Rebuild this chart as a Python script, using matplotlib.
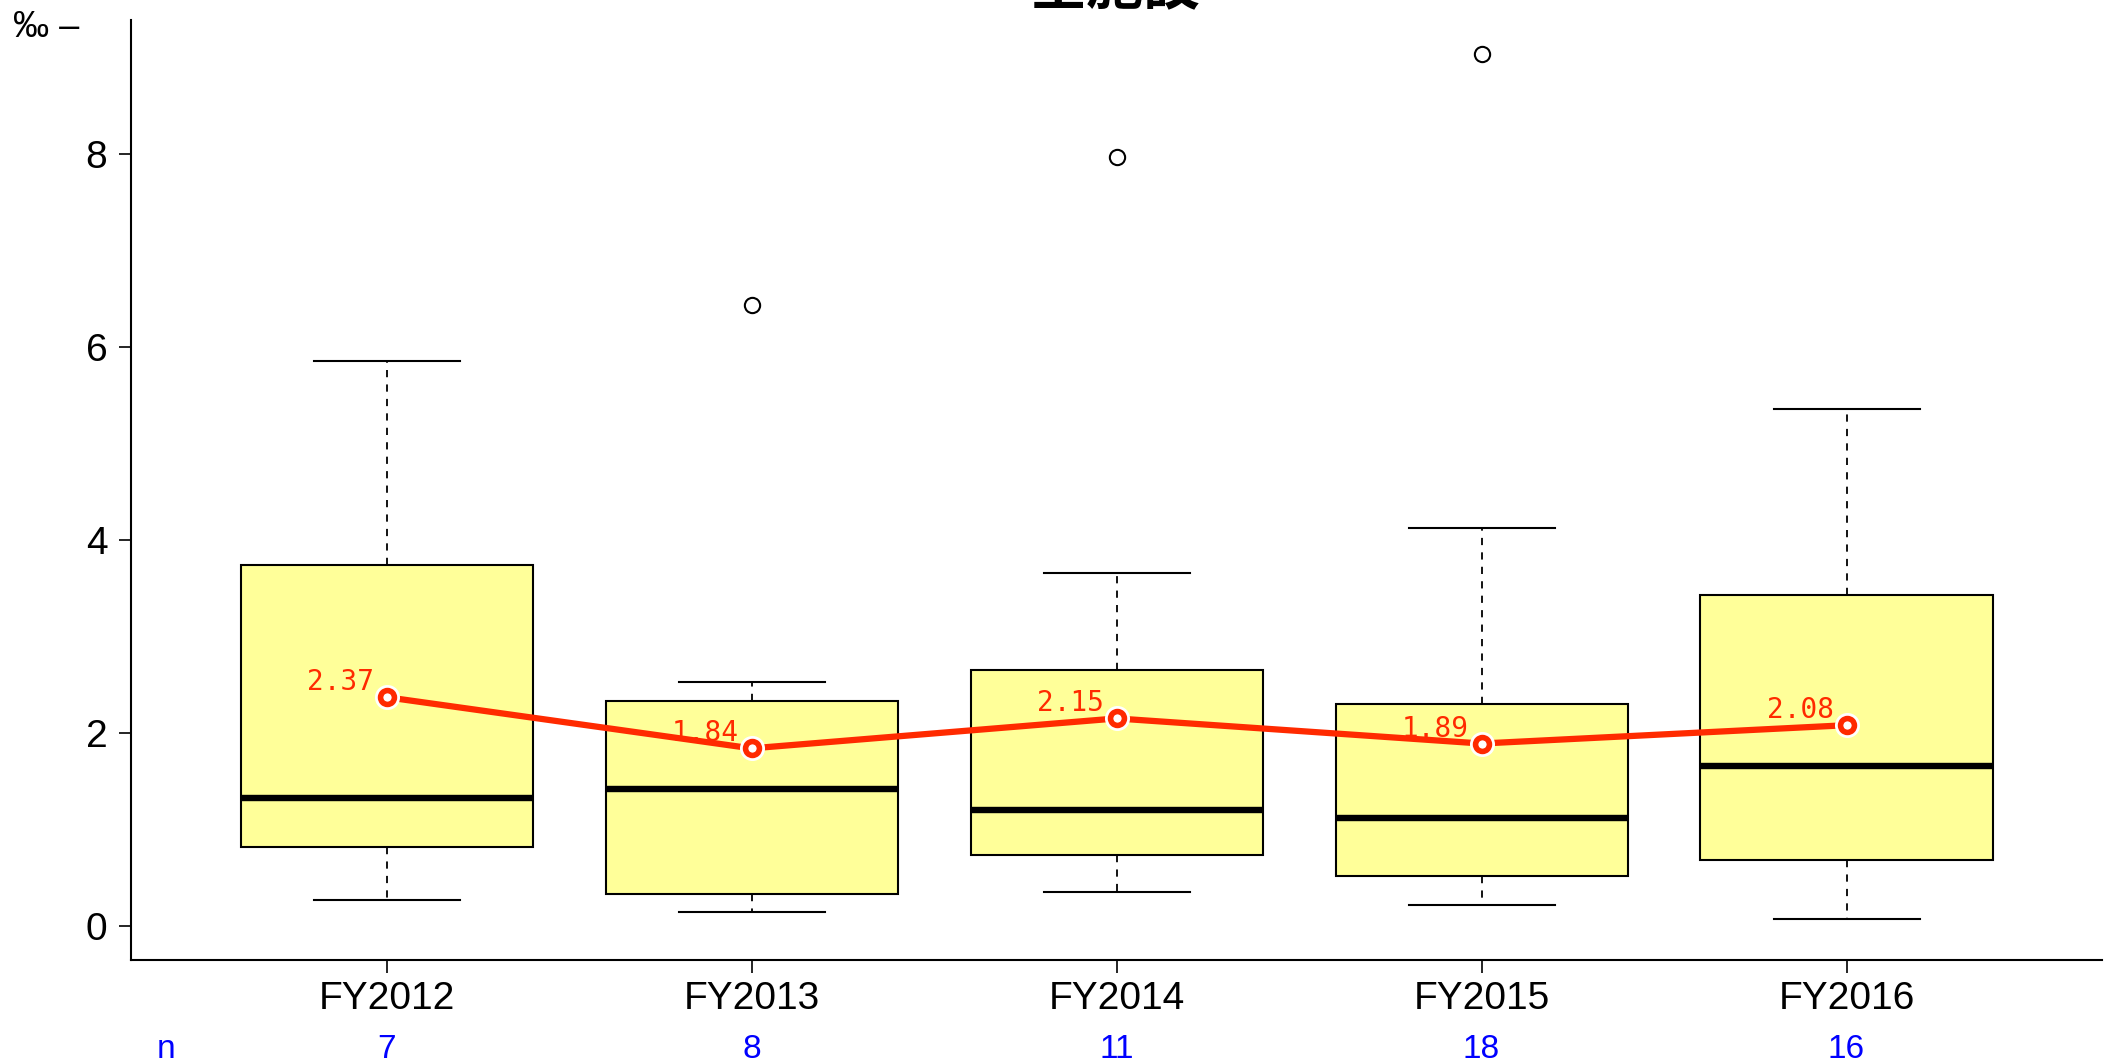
"""Boxplot of per-facility rate by fiscal year, with mean line."""

import matplotlib.pyplot as plt
from matplotlib.transforms import blended_transform_factory

# data
years = ["FY2012", "FY2013", "FY2014", "FY2015", "FY2016"]
n_counts = [7, 8, 11, 18, 16]
whis_lo = [0.27, 0.14, 0.35, 0.22, 0.07]
q1 = [0.82, 0.33, 0.74, 0.52, 0.68]
medians = [1.33, 1.42, 1.20, 1.12, 1.66]
q3 = [3.74, 2.33, 2.65, 2.30, 3.43]
whis_hi = [5.85, 2.53, 3.66, 4.12, 5.35]
fliers = [[], [6.43], [7.96], [9.03], []]
means = [2.37, 1.84, 2.15, 1.89, 2.08]

SANS = ["Liberation Sans", "DejaVu Sans"]
RED = "#FF2A00"
plt.rcParams["font.family"] = SANS

fig = plt.figure(figsize=(21.13, 10.63), dpi=100)
ax = fig.add_axes([131 / 2113, 1 - 960 / 1063, (2102 - 131) / 2113, 940 / 1063])

stats = []
for i, name in enumerate(years):
    stats.append({
        "label": name, "whislo": whis_lo[i], "q1": q1[i], "med": medians[i],
        "q3": q3[i], "whishi": whis_hi[i], "fliers": fliers[i],
    })

pos = list(range(1, len(years) + 1))
ax.bxp(
    stats, positions=pos, widths=0.8, patch_artist=True, showfliers=True,
    boxprops=dict(facecolor="#FFFF99", edgecolor="black", linewidth=1.5),
    medianprops=dict(color="black", linewidth=4.6),
    whiskerprops=dict(color="black", linewidth=1.3, linestyle=(0, (4, 4))),
    capprops=dict(color="black", linewidth=1.5),
    capwidths=0.4,
    flierprops=dict(marker="o", markersize=11, markerfacecolor="white",
                    markeredgecolor="black", markeredgewidth=1.5),
)

# mean line with gaps around the points
ax.plot(pos, means, color=RED, linewidth=4.5, zorder=5)
ax.plot(pos, means, linestyle="none", marker="o", markersize=17,
        markerfacecolor="white", markeredgecolor="white", zorder=6)
ax.plot(pos, means, linestyle="none", marker="o", markersize=10,
        markerfacecolor="white", markeredgecolor=RED, markeredgewidth=4, zorder=7)
for x, m in zip(pos, means):
    ax.annotate(f"{m:.2f}", (x, m), xytext=(-9, 5), textcoords="offset points",
                ha="right", va="baseline", color=RED, fontsize=20,
                family=["DejaVu Sans Mono"], zorder=8)

ax.set_xlim(0.3, 5.7)
ax.set_ylim(-0.352, 9.384)
ax.set_xticks(pos)
ax.set_xticklabels(years)
ax.set_yticks([0, 2, 4, 6, 8])
ax.tick_params(axis="both", direction="out", length=9, width=1.2, labelsize=28)
ax.tick_params(axis="x", pad=6)
ax.tick_params(axis="y", pad=8)
for side in ("top", "right"):
    ax.spines[side].set_visible(False)
for side in ("left", "bottom"):
    ax.spines[side].set_linewidth(1.5)

# n row under the axis
trans = blended_transform_factory(ax.transData, fig.transFigure)
ax.text(166 / 2113, 0.013, "n", transform=fig.transFigure, ha="center",
        va="center", color="blue", fontsize=24)
for x, n in zip(pos, n_counts):
    ax.text(x, 0.013, str(n), transform=trans, ha="center", va="center",
            color="blue", fontsize=24)

fig.text(13 / 2113, 1 - 37 / 1063, "‰ –", ha="left", va="baseline", fontsize=26,
         family=SANS)
fig.text(0.528, 1 - 16 / 1063, "全施設", ha="center", va="bottom", fontsize=41,
         fontweight="bold", family=["Noto Sans CJK JP", "DejaVu Sans"])

fig.savefig("out.png", dpi=100, facecolor="white")
